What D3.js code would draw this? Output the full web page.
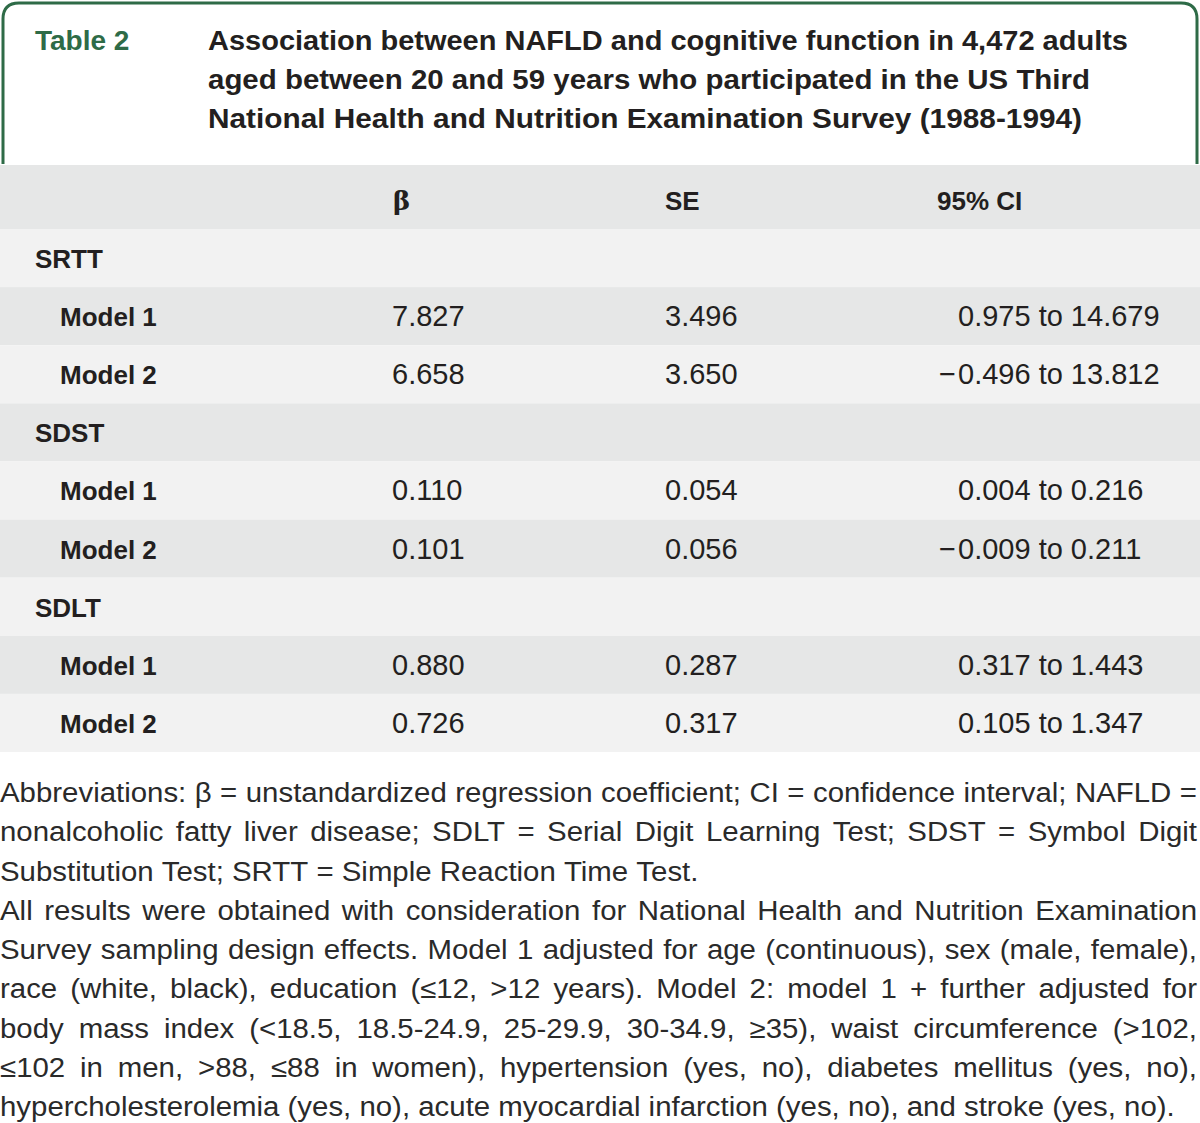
<!DOCTYPE html>
<html>
<head>
<meta charset="utf-8">
<script src="https://cdn.jsdelivr.net/npm/d3@7"></script>
<style>
  body { margin: 0; background: #fff; }
  svg { display: block; }
</style>
</head>
<body>
<svg id="chart"></svg>
<script>
// table data
const groups = ["SRTT", "SDST", "SDLT"];
const models = ["Model 1", "Model 2"];
const columns = ["β", "SE", "95% CI"];
const beta = [7.827, 6.658, 0.110, 0.101, 0.880, 0.726];
const se = [3.496, 3.650, 0.054, 0.056, 0.287, 0.317];
const ciLow = [0.975, -0.496, 0.004, -0.009, 0.317, 0.105];
const ciHigh = [14.679, 13.812, 0.216, 0.211, 1.443, 1.347];

const titleLabel = "Table 2";
const titleLines = [
  "Association between NAFLD and cognitive function in 4,472 adults",
  "aged between 20 and 59 years who participated in the US Third",
  "National Health and Nutrition Examination Survey (1988-1994)"
];
const noteLines = [
  "Abbreviations: β = unstandardized regression coefficient; CI = confidence interval; NAFLD =",
  "nonalcoholic fatty liver disease; SDLT = Serial Digit Learning Test; SDST = Symbol Digit",
  "Substitution Test; SRTT = Simple Reaction Time Test.",
  "All results were obtained with consideration for National Health and Nutrition Examination",
  "Survey sampling design effects. Model 1 adjusted for age (continuous), sex (male, female),",
  "race (white, black), education (≤12, >12 years). Model 2: model 1 + further adjusted for",
  "body mass index (<18.5, 18.5-24.9, 25-29.9, 30-34.9, ≥35), waist circumference (>102,",
  "≤102 in men, >88, ≤88 in women), hypertension (yes, no), diabetes mellitus (yes, no),",
  "hypercholesterolemia (yes, no), acute myocardial infarction (yes, no), and stroke (yes, no)."
];
// which note lines end a paragraph (not justified)
const noteLast = [false, false, true, false, false, false, false, false, true];

const width = 1200, height = 1123;
const green = "#2e6b47";
const ink = "#231f20";
const font = "'Liberation Sans', Arial, sans-serif";

const svg = d3.select("#chart").attr("width", width).attr("height", height);

// title box with rounded top corners
const bx0 = 3, bx1 = 1197, by0 = 3, by1 = 164, r = 16;
svg.append("path")
  .attr("d", `M${bx0},${by1} L${bx0},${by0 + r} Q${bx0},${by0} ${bx0 + r},${by0} L${bx1 - r},${by0} Q${bx1},${by0} ${bx1},${by0 + r} L${bx1},${by1}`)
  .attr("fill", "none")
  .attr("stroke", green)
  .attr("stroke-width", 3);

svg.append("text")
  .attr("x", 35).attr("y", 50)
  .attr("font-family", font).attr("font-weight", "bold").attr("font-size", 28)
  .attr("fill", green)
  .text(titleLabel);

const titleWidths = [920, 882, 874];
svg.selectAll("text.title")
  .data(titleLines)
  .join("text")
  .attr("class", "title")
  .attr("x", 208)
  .attr("y", (d, i) => 50 + i * 39)
  .attr("font-family", font).attr("font-weight", "bold").attr("font-size", 28)
  .attr("fill", ink)
  .attr("textLength", (d, i) => titleWidths[i])
  .attr("lengthAdjust", "spacingAndGlyphs")
  .text(d => d);

// rows
const rows = [];
groups.forEach((g, gi) => {
  rows.push({ label: g, group: true });
  models.forEach((m, mi) => {
    const k = gi * 2 + mi;
    rows.push({ label: m, group: false, beta: beta[k], se: se[k], lo: ciLow[k], hi: ciHigh[k] });
  });
});

const y = d3.scaleBand().domain(d3.range(rows.length)).range([229, 752]);
const fmt = d3.format(".3f");
const colX = { beta: 392, se: 665, ci: 958 };

// header band
svg.append("rect")
  .attr("x", 0).attr("y", 165).attr("width", width).attr("height", 229 - 165)
  .attr("fill", "#e6e7e7");

svg.selectAll("text.head")
  .data(columns)
  .join("text")
  .attr("class", "head")
  .attr("x", (d, i) => [393, 665, 937][i])
  .attr("y", 210)
  .attr("font-family", (d, i) => i === 0 ? "'DejaVu Serif', serif" : font)
  .attr("font-weight", "bold").attr("font-size", 26)
  .attr("fill", ink)
  .text(d => d);

const rowG = svg.selectAll("g.row")
  .data(rows)
  .join("g")
  .attr("class", "row")
  .attr("transform", (d, i) => `translate(0,${y(i)})`);

rowG.append("rect")
  .attr("width", width)
  .attr("height", y.bandwidth())
  .attr("fill", (d, i) => i % 2 === 0 ? "#f2f2f2" : "#e6e7e7");

const mid = y.bandwidth() / 2 + 10;

rowG.append("text")
  .attr("x", d => d.group ? 35 : 60)
  .attr("y", mid)
  .attr("font-family", font).attr("font-weight", "bold").attr("font-size", 26)
  .attr("fill", ink)
  .text(d => d.label);

const modelRows = rowG.filter(d => !d.group);
const valStyle = sel => sel
  .attr("y", mid)
  .attr("font-family", font).attr("font-size", 29)
  .attr("fill", ink);

modelRows.append("text").call(valStyle).attr("x", colX.beta).text(d => fmt(d.beta));
modelRows.append("text").call(valStyle).attr("x", colX.se).text(d => fmt(d.se));
modelRows.append("text").call(valStyle).attr("x", colX.ci)
  .text(d => `${fmt(Math.abs(d.lo))} to ${fmt(d.hi)}`);
modelRows.filter(d => d.lo < 0).append("text").call(valStyle)
  .attr("x", colX.ci - 2).attr("text-anchor", "end").text("−");

// footnote, justified line by line
const noteSize = 27;
const noteG = svg.append("g").attr("font-family", font).attr("font-size", noteSize).attr("fill", "#2a2a2a");
const probe = noteG.append("text").attr("x", -9999).attr("y", -9999);
const measure = s => { probe.text(s); return probe.node().getComputedTextLength(); };
const spaceW = measure("a a") - measure("aa");

// horizontal squeeze so the short closing lines keep their width
const lastWidths = { 2: 705, 8: 1175 };
const sx = d3.min(Object.keys(lastWidths), i => lastWidths[i] / measure(noteLines[i]));
noteG.attr("transform", `scale(${sx},1)`);
const fullW = 1197 / sx;

noteLines.forEach((line, i) => {
  const words = line.split(" ");
  const ws = words.map(measure);
  const total = d3.sum(ws);
  const gap = noteLast[i] ? spaceW : (fullW - total) / (words.length - 1);
  let x = 0;
  const t = noteG.append("text").attr("y", 802 + i * 39.3);
  words.forEach((w, j) => {
    t.append("tspan").attr("x", x).text(w);
    x += ws[j] + gap;
  });
});
probe.remove();
</script>
</body>
</html>
